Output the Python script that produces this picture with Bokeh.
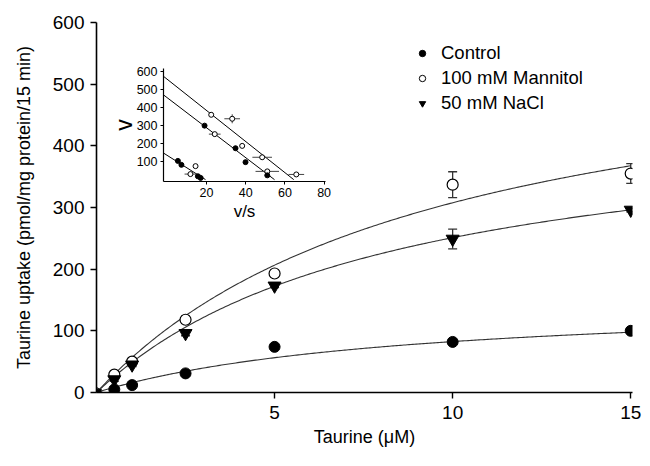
import numpy as np
from bokeh.plotting import figure
from bokeh.models import (Range1d, FixedTicker, Whisker, ColumnDataSource, Legend,
                          LegendItem, TeeHead)
from bokeh.layouts import column
from bokeh.embed import file_html
from bokeh.resources import INLINE

FONT = "Liberation Sans"

# ---------------- main data ----------------
taurine = [0.5, 1, 2.5, 5, 10, 15]
control = [5, 12, 31, 74, 82, 100]
mannitol = [29, 50, 118, 193, 337, 355]
mannitol_err = [4, 3, 6, 4, 21, 16]
nacl = [21, 45, 96, 173, 249, 296]
nacl_err = [3, 3, 4, 3, 16, 3]

# fitted Michaelis-Menten parameters (Vmax, Km)
fit_control = (154, 8.65)
fit_mannitol = (603, 9.6)
fit_nacl = (462, 8.4)

x_ticks = [5, 10, 15]
y_ticks = [0, 100, 200, 300, 400, 500, 600]

# ---------------- inset (Eadie-Hofstee) data ----------------
ins_vs = [22.4, 33.1, 38.2, 48.4, 65.8, 19.0, 24.2, 34.8, 39.9, 51.0, 51.0,
          5.4, 7.2, 14.4, 11.8, 15.6, 17.0]
ins_v = [359, 337, 187, 124, 29, 299, 252, 174, 97, 46, 24,
         104, 82, 75, 31, 19, 10]
ins_vs_err = [0, 4, 0, 5, 4, 0, 3, 0, 0, 6, 0, 0, 0, 0, 3, 1, 1]
ins_v_err = [12, 25, 0, 0, 0, 0, 12, 0, 0, 0, 0, 0, 0, 6, 0, 0, 0]
ins_open = [1, 1, 1, 1, 1, 0, 1, 0, 0, 1, 0, 0, 0, 1, 1, 0, 0]
# regression lines (intercept, slope, x-intercept)
ins_lines = [(555, -8.6, 64.5), (453, -8.28, 54.7), (134, -6.85, 19.5)]
ins_x_ticks = [20, 40, 60, 80]
ins_y_ticks = [100, 200, 300, 400, 500, 600]

BORDER_L = 96

# ---------------- main figure ----------------
p = figure(width=642, height=458, output_backend="svg", toolbar_location=None,
           x_range=Range1d(0, 15.05), y_range=Range1d(0, 600),
           min_border_left=BORDER_L, min_border_right=10, min_border_top=22,
           min_border_bottom=66)
p.outline_line_color = None
p.grid.visible = False
p.background_fill_color = "white"
p.border_fill_color = "white"

for ax in (p.xaxis[0], p.yaxis[0]):
    ax.axis_line_width = 1.6
    ax.axis_line_color = "black"
    ax.major_tick_line_color = "black"
    ax.major_tick_line_width = 1.4
    ax.major_tick_out = 6
    ax.major_tick_in = 0
    ax.minor_tick_line_color = None
    ax.major_label_text_font = FONT
    ax.major_label_text_font_size = "19px"
    ax.major_label_text_color = "black"
    ax.axis_label_text_font = FONT
    ax.axis_label_text_font_size = "18px"
    ax.axis_label_text_font_style = "normal"
    ax.axis_label_text_color = "black"

p.xaxis.ticker = FixedTicker(ticks=x_ticks)
p.yaxis.ticker = FixedTicker(ticks=y_ticks)
p.xaxis.axis_label = "Taurine (\u03bcM)"
p.yaxis.axis_label = "Taurine uptake (pmol/mg protein/15 min)"
p.xaxis.major_label_standoff = 7
p.xaxis.axis_label_standoff = 5
p.yaxis.major_label_standoff = 6
p.yaxis.axis_label_standoff = 16

s = np.linspace(0, 15, 300)
for V, K in (fit_control, fit_mannitol, fit_nacl):
    p.line(s, V * s / (K + s), line_color="#333333", line_width=1.1)

src_m = ColumnDataSource(dict(x=taurine, lo=[a - b for a, b in zip(mannitol, mannitol_err)],
                              hi=[a + b for a, b in zip(mannitol, mannitol_err)]))
src_n = ColumnDataSource(dict(x=taurine, lo=[a - b for a, b in zip(nacl, nacl_err)],
                              hi=[a + b for a, b in zip(nacl, nacl_err)]))
for src in (src_m, src_n):
    w = Whisker(base="x", lower="lo", upper="hi", source=src, line_color="#333333",
                line_width=1.3,
                upper_head=TeeHead(size=9, line_color="#333333", line_width=1.3),
                lower_head=TeeHead(size=9, line_color="#333333", line_width=1.3))
    p.add_layout(w)

r_c = p.scatter(taurine, control, marker="circle", size=11, fill_color="black",
                line_color="black")
r_m = p.scatter(taurine, mannitol, marker="circle", size=11, fill_color="white",
                line_color="black", line_width=1.2)
r_n = p.scatter(taurine, nacl, marker="inverted_triangle", size=13, fill_color="black",
                line_color="black")

leg_c = p.scatter([None], [None], marker="circle", size=9, fill_color="black", line_color="black")
leg_m = p.scatter([None], [None], marker="circle", size=9, fill_color="white", line_color="black")
leg_n = p.scatter([None], [None], marker="inverted_triangle", size=10, fill_color="black",
                  line_color="black")
legend = Legend(items=[LegendItem(label="Control", renderers=[leg_c]),
                       LegendItem(label="100 mM Mannitol", renderers=[leg_m]),
                       LegendItem(label="50 mM NaCl", renderers=[leg_n])],
                location=(318, 278), border_line_color=None, background_fill_alpha=0,
                label_text_font=FONT, label_text_font_size="18.5px", label_text_color="black",
                glyph_width=16, glyph_height=20, label_height=20, spacing=3,
                label_standoff=11, padding=0, margin=0)
p.add_layout(legend)

# ---------------- inset figure ----------------
q = figure(width=BORDER_L + 162 + 10, height=163, output_backend="svg", toolbar_location=None,
           x_range=Range1d(-1.94, 80.7), y_range=Range1d(-10, 615),
           min_border_left=BORDER_L, min_border_right=10, min_border_top=8,
           min_border_bottom=40)
q.outline_line_color = None
q.grid.visible = False
q.background_fill_alpha = 0
q.border_fill_alpha = 0
for ax in (q.xaxis[0], q.yaxis[0]):
    ax.axis_line_width = 1.2
    ax.axis_line_color = "black"
    ax.major_tick_line_color = "black"
    ax.major_tick_out = 3
    ax.major_tick_in = 0
    ax.minor_tick_line_color = None
    ax.major_label_text_font = FONT
    ax.major_label_text_font_size = "12.5px"
    ax.major_label_text_color = "black"
    ax.axis_label_text_font = FONT
    ax.axis_label_text_font_style = "normal"
    ax.axis_label_text_color = "black"
q.xaxis.ticker = FixedTicker(ticks=ins_x_ticks)
q.yaxis.ticker = FixedTicker(ticks=ins_y_ticks)
q.xaxis.axis_label = "v/s"
q.yaxis.axis_label = "v"
q.xaxis.axis_label_text_font_size = "17px"
q.yaxis.axis_label_text_font_size = "23px"
q.xaxis.major_label_standoff = 3
q.yaxis.major_label_standoff = 3
q.xaxis.axis_label_standoff = 2
q.yaxis.axis_label_standoff = -3

for b, m, xe in ins_lines:
    q.line([-1.94, xe], [b + m * -1.94, b + m * xe], line_color="black", line_width=1)

ins_src = ColumnDataSource(dict(
    x=ins_vs, y=ins_v,
    xlo=[a - e for a, e in zip(ins_vs, ins_vs_err)], xhi=[a + e for a, e in zip(ins_vs, ins_vs_err)],
    ylo=[a - e for a, e in zip(ins_v, ins_v_err)], yhi=[a + e for a, e in zip(ins_v, ins_v_err)],
    fill=["white" if o else "black" for o in ins_open]))
q.segment(x0="xlo", x1="xhi", y0="y", y1="y", source=ins_src, line_color="#444444", line_width=1)
q.segment(x0="x", x1="x", y0="ylo", y1="yhi", source=ins_src, line_color="#444444", line_width=1)
q.scatter("x", "y", source=ins_src, marker="circle", size=5, fill_color="fill",
          line_color="black", line_width=1)

q.styles = {"position": "absolute", "left": f"{163 - BORDER_L}px", "top": "60px"}

layout = column(p, q)
open("out.html", "w").write(file_html(layout, INLINE))
